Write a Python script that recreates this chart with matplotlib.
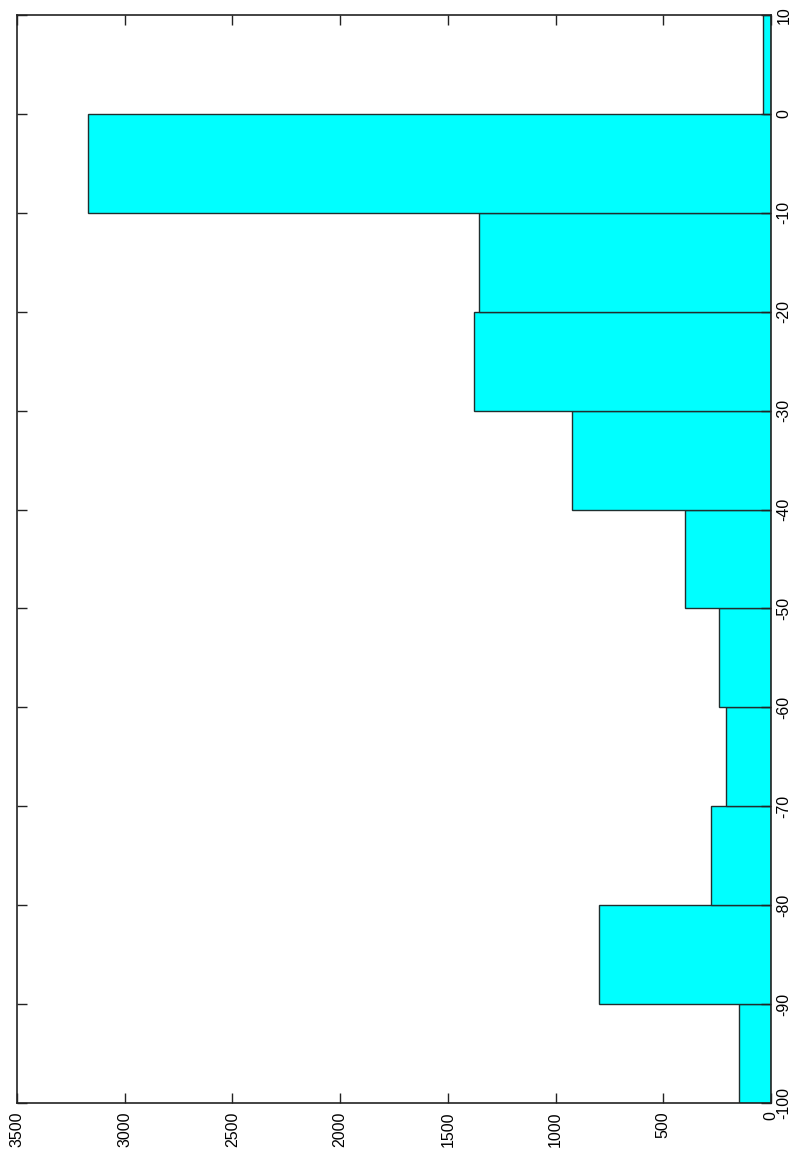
import matplotlib
matplotlib.use("Agg")
import matplotlib.pyplot as plt

bin_edges = [-100, -90, -80, -70, -60, -50, -40, -30, -20, -10, 0]
counts = [147, 797, 280, 210, 241, 401, 922, 1377, 1357, 3169, 38]
bin_width = 10
count_ticks = [0, 500, 1000, 1500, 2000, 2500, 3000, 3500]
bin_ticks = [-100, -90, -80, -70, -60, -50, -40, -30, -20, -10, 0, 10]

plt.rcParams['font.family'] = ['Liberation Sans', 'DejaVu Sans']

fig = plt.figure(figsize=(7.96, 11.54), dpi=100)
ax = fig.add_axes([17/796, 51/1154, 754/796, 1088/1154])

ax.barh(bin_edges, counts, height=bin_width, align='edge',
        color='#00FFFF', edgecolor='#1f2f2f', linewidth=1.0)

ax.set_xlim(3500, 0)
ax.set_ylim(-100, 10)
ax.set_xticks(count_ticks)
ax.set_xticklabels([str(v) for v in count_ticks], rotation=90, fontsize=11.5)
ax.set_yticks(bin_ticks)
ax.set_yticklabels([str(v) for v in bin_ticks], rotation=90, fontsize=11.5, va='center')
ax.yaxis.tick_right()
ax.tick_params(axis='both', direction='in', length=7, width=1.0, color='#222222',
               top=True, bottom=True, left=True, right=True)
ax.tick_params(axis='x', pad=6)
ax.tick_params(axis='y', pad=4)
for s in ax.spines.values():
    s.set_linewidth(1.2)
    s.set_color('#222222')

fig.savefig('out.png', dpi=100)
